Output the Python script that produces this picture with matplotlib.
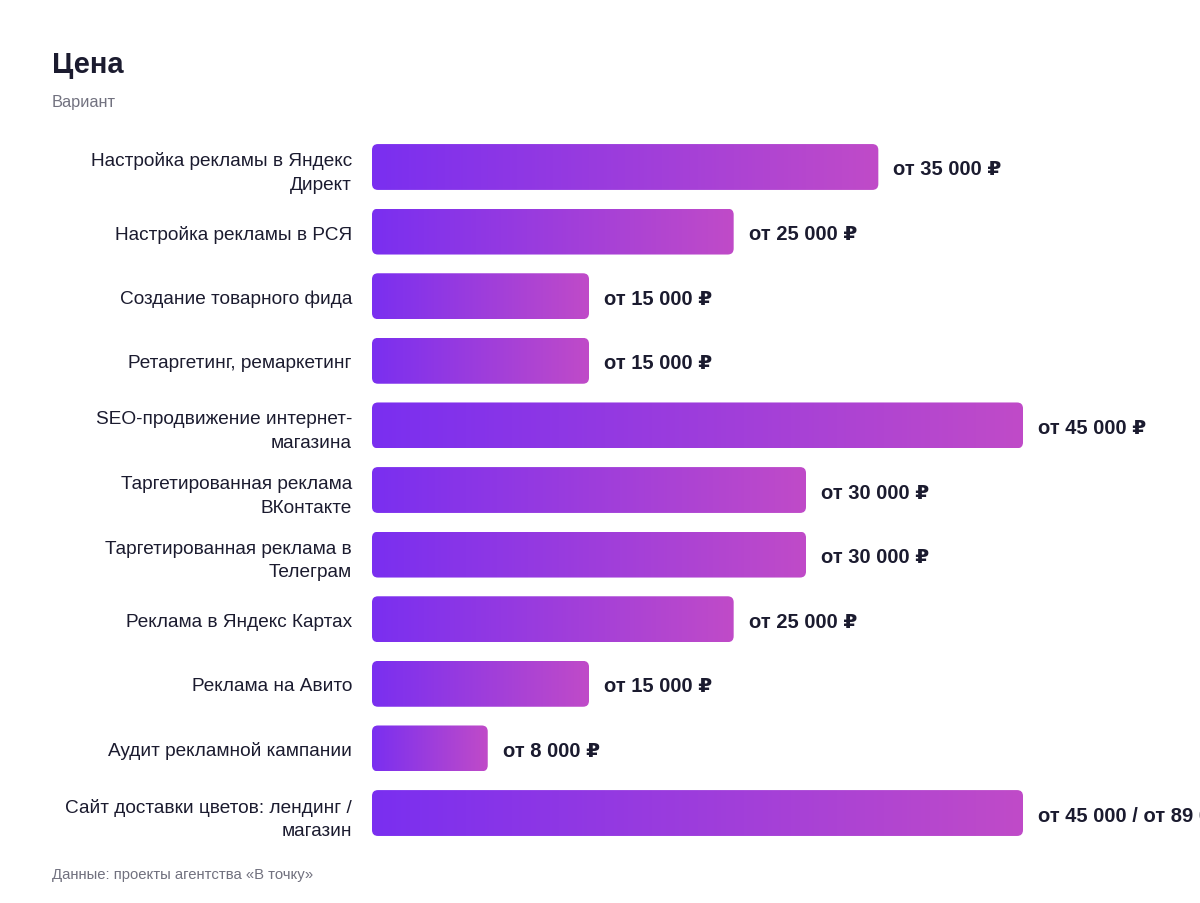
import numpy as np
import matplotlib.pyplot as plt
from matplotlib.colors import LinearSegmentedColormap
from matplotlib.patches import FancyBboxPatch

plt.rcParams['font.family'] = ['Liberation Sans', 'DejaVu Sans']

categories = [
    'Настройка рекламы в Яндекс\nДирект',
    'Настройка рекламы в РСЯ',
    'Создание товарного фида',
    'Ретаргетинг, ремаркетинг',
    'SEO-продвижение интернет-\nмагазина',
    'Таргетированная реклама\nВКонтакте',
    'Таргетированная реклама в\nТелеграм',
    'Реклама в Яндекс Картах',
    'Реклама на Авито',
    'Аудит рекламной кампании',
    'Сайт доставки цветов: лендинг /\nмагазин',
]
prices = [35000, 25000, 15000, 15000, 45000, 30000, 30000, 25000, 15000, 8000, 45000]
price_labels = [
    'от 35 000 ₽', 'от 25 000 ₽', 'от 15 000 ₽', 'от 15 000 ₽', 'от 45 000 ₽',
    'от 30 000 ₽', 'от 30 000 ₽', 'от 25 000 ₽', 'от 15 000 ₽', 'от 8 000 ₽',
    'от 45 000 / от 89 000 ₽',
]

dark = '#1b1b2f'
gray = '#71717f'
cmap = LinearSegmentedColormap.from_list('bar', ['#7a2ff0', '#c04bc8'])

fig = plt.figure(figsize=(12, 9.04), dpi=100)
ax = fig.add_axes([0.31, 0.0638, 0.69, 0.7861])

n = len(categories)
xmax = 57235
ax.set_xlim(0, xmax)
ax.set_ylim(n - 0.5, -0.5)

# px -> data conversion for rounding
bbox = ax.get_window_extent()
x_per_px = xmax / bbox.width
y_per_px = n / bbox.height
radius_px = 6
bar_h = 0.71

grad = np.linspace(0, 1, 256).reshape(1, -1)
for i, (v, lab) in enumerate(zip(prices, price_labels)):
    patch = FancyBboxPatch((0, i - bar_h / 2), v, bar_h,
                           boxstyle=f'round,pad=0,rounding_size={radius_px * x_per_px}',
                           mutation_aspect=y_per_px / x_per_px,
                           facecolor='none', edgecolor='none')
    ax.add_patch(patch)
    im = ax.imshow(grad, cmap=cmap, aspect='auto',
                   extent=[0, v, i + bar_h / 2, i - bar_h / 2], interpolation='bilinear')
    im.set_clip_path(patch)
    ax.text(v + 15 * x_per_px, i, lab, va='center_baseline', ha='left',
            fontsize=14.5, fontweight='bold', color=dark, clip_on=False)

ax.set_xlim(0, xmax)
ax.set_ylim(n - 0.5, -0.5)
ax.set_yticks(range(n))
ax.set_yticklabels(categories, fontsize=13.7, color=dark, linespacing=1.5)
for t in ax.get_yticklabels():
    t.set_multialignment('right')
ax.tick_params(axis='y', length=0, pad=14.4)
ax.set_xticks([])
for s in ax.spines.values():
    s.set_visible(False)

fig.text(52 / 1200, 1 - 65 / 904, 'Цена', fontsize=21, fontweight='bold',
         color=dark, va='center', ha='left')
fig.text(52 / 1200, 1 - 102 / 904, 'Вариант', fontsize=11.8, color=gray,
         va='center', ha='left')
fig.text(52 / 1200, 1 - 875 / 904, 'Данные: проекты агентства «В точку»', fontsize=10.7,
         color=gray, va='center', ha='left')

fig.savefig('out.png', dpi=100)
